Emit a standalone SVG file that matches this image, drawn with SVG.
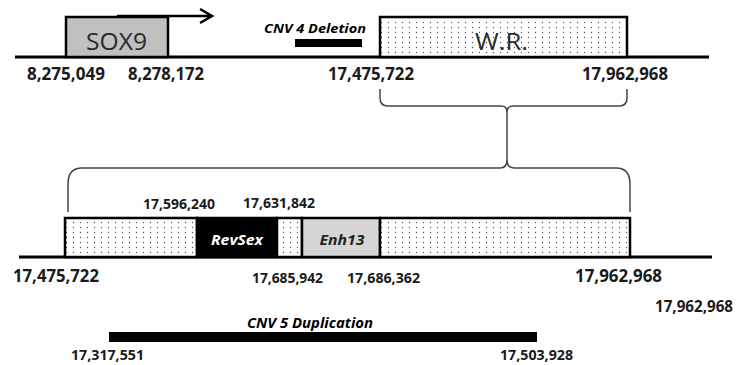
<svg xmlns="http://www.w3.org/2000/svg" width="737" height="365" viewBox="0 0 737 365">
<defs>
<pattern id="dots" x="0" y="0" width="7" height="5" patternUnits="userSpaceOnUse">
<rect width="7" height="5" fill="#fff"/>
<circle cx="3.5" cy="2.5" r="0.7" fill="#555"/>
</pattern>
</defs>
<style>
.num{font-family:"Open Sans","Liberation Sans",sans-serif;font-weight:bold;fill:#1a1a1a}
.lab{font-family:"Open Sans","Liberation Sans",sans-serif;font-weight:bold;font-style:italic}
.big{font-family:"Open Sans","Liberation Sans",sans-serif;font-size:24px;fill:#2a2a2a}
.box{stroke:#000;stroke-width:2.5}
.axis{stroke:#000;stroke-width:3}
.brace{fill:none;stroke:#444;stroke-width:1.5}
</style>
<rect width="737" height="365" fill="#fff"/>
<g id="axes">
<line class="axis" x1="15" y1="57" x2="709" y2="57"/>
<line class="axis" x1="19" y1="257" x2="712" y2="257"/>
</g>
<g id="sox9">
<rect class="box" x="66" y="17" width="102" height="40" fill="#c0c0c0"/>
<text class="big" x="86" y="50" textLength="61" lengthAdjust="spacingAndGlyphs">SOX9</text>
</g>
<g id="promoter-arrow">
<path d="M117,16 L212,16 M200,9 L212,16 L200,23" fill="none" stroke="#000" stroke-width="2.5"/>
</g>
<g id="cnv4">
<text class="lab" x="264" y="33" font-size="12" textLength="102" lengthAdjust="spacingAndGlyphs">CNV 4 Deletion</text>
<rect x="295" y="39" width="67" height="8" fill="#000"/>
</g>
<g id="wr">
<rect class="box" x="380" y="17" width="247" height="40" fill="url(#dots)"/>
<text class="big" x="475" y="50" textLength="53" lengthAdjust="spacingAndGlyphs">W.R.</text>
</g>
<g id="top-labels">
<text class="num" x="27" y="80" font-size="17" textLength="78" lengthAdjust="spacingAndGlyphs">8,275,049</text>
<text class="num" x="128" y="80" font-size="17" textLength="76" lengthAdjust="spacingAndGlyphs">8,278,172</text>
<text class="num" x="328" y="80" font-size="17" textLength="86" lengthAdjust="spacingAndGlyphs">17,475,722</text>
<text class="num" x="582" y="80" font-size="17" textLength="86" lengthAdjust="spacingAndGlyphs">17,962,968</text>
</g>
<g id="connectors">
<path class="brace" d="M380,89 L380,98 Q380,106 388,106 L501,106 Q507,106 507,112 L507,124 M507,112 Q507,106 513,106 L619,106 Q627,106 627,98 L627,89"/>
<path class="brace" d="M68,212 L68,184 Q68,168 82,168 L500,168 Q507,168 507,160 L507,124 M507,160 Q507,168 514,168 L616,168 Q630,168 630,184 L630,212"/>
</g>
<g id="region-left">
<rect class="box" x="65" y="218" width="132" height="39" fill="url(#dots)"/>
</g>
<g id="revsex">
<rect class="box" x="197" y="218" width="80" height="39" fill="#000"/>
<text class="lab" x="237" y="245" font-size="15" fill="#fff" text-anchor="middle" textLength="52" lengthAdjust="spacingAndGlyphs">RevSex</text>
</g>
<g id="region-mid">
<rect class="box" x="277" y="218" width="25" height="39" fill="url(#dots)"/>
</g>
<g id="enh13">
<rect class="box" x="302" y="218" width="78" height="39" fill="#d6d6d6"/>
<text class="lab" x="342" y="245" font-size="15" fill="#222" text-anchor="middle" textLength="45" lengthAdjust="spacingAndGlyphs">Enh13</text>
</g>
<g id="region-right">
<rect class="box" x="380" y="218" width="250" height="39" fill="url(#dots)"/>
</g>
<g id="bottom-labels">
<text class="num" x="143" y="209" font-size="15" textLength="72" lengthAdjust="spacingAndGlyphs">17,596,240</text>
<text class="num" x="243" y="208" font-size="15" textLength="72" lengthAdjust="spacingAndGlyphs">17,631,842</text>
<text class="num" x="13" y="282" font-size="17" textLength="86" lengthAdjust="spacingAndGlyphs">17,475,722</text>
<text class="num" x="252" y="283" font-size="15" textLength="71" lengthAdjust="spacingAndGlyphs">17,685,942</text>
<text class="num" x="347" y="283" font-size="15" textLength="73" lengthAdjust="spacingAndGlyphs">17,686,362</text>
<text class="num" x="575" y="282" font-size="17" textLength="87" lengthAdjust="spacingAndGlyphs">17,962,968</text>
<text class="num" x="655" y="312" font-size="16" textLength="78" lengthAdjust="spacingAndGlyphs">17,962,968</text>
</g>
<g id="cnv5">
<text class="lab" x="247" y="328" font-size="14" textLength="126" lengthAdjust="spacingAndGlyphs">CNV 5 Duplication</text>
<rect x="109" y="332" width="428" height="10" fill="#000"/>
<text class="num" x="71" y="360" font-size="15" textLength="73" lengthAdjust="spacingAndGlyphs">17,317,551</text>
<text class="num" x="500" y="360" font-size="15" textLength="73" lengthAdjust="spacingAndGlyphs">17,503,928</text>
</g>
</svg>
